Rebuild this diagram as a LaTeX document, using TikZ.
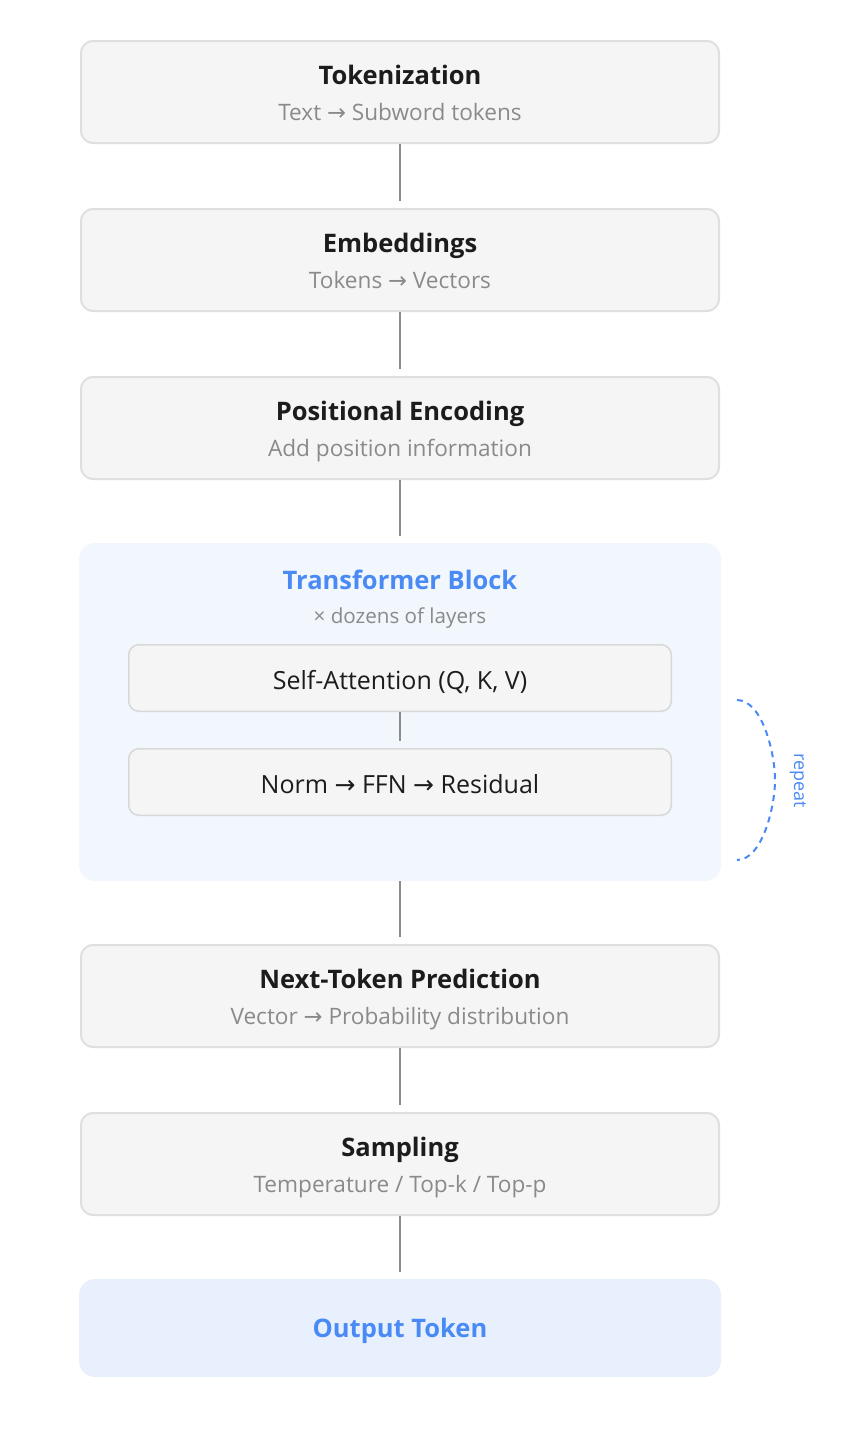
\documentclass[tikz,border=0pt]{standalone}
\usepackage{fontspec}
\setmainfont{Open Sans}
\newfontfamily\arrfont{DejaVu Sans}
\definecolor{boxfill}{HTML}{F5F5F5}
\definecolor{boxline}{HTML}{DFDFDF}
\definecolor{subline}{HTML}{D8D8D8}
\definecolor{titlec}{HTML}{1C1C1C}
\definecolor{subc}{HTML}{8A8A8A}
\definecolor{bluec}{HTML}{4A8AF4}
\definecolor{tbfill}{HTML}{F2F6FD}
\definecolor{outfill}{HTML}{E8F0FD}
\definecolor{connc}{HTML}{8C8C8C}
\newcommand{\ar}{{\arrfont\char"2192}}
\begin{document}
\begin{tikzpicture}[x=1pt,y=-1pt]
\tikzset{
  stagebox/.style={draw=boxline, line width=2pt, fill=boxfill, rounded corners=12pt,
    minimum width=638pt, minimum height=102pt, inner sep=0pt},
  subbox/.style={draw=subline, line width=1.5pt, fill=boxfill, rounded corners=10pt,
    minimum width=542.5pt, minimum height=66.5pt, inner sep=0pt},
  ttl/.style={font=\fontsize{25.5}{29}\selectfont\bfseries, text=titlec, inner sep=0pt, anchor=base},
  subt/.style={font=\fontsize{22.6}{26}\selectfont, text=subc, inner sep=0pt, anchor=base},
  inner/.style={font=\fontsize{25}{29}\selectfont, text=titlec, inner sep=0pt, anchor=base},
  conn/.style={draw=connc, line width=2.5pt, shorten >=7pt},
  thinconn/.style={draw=connc, line width=1.5pt, shorten >=7pt},
}
\useasboundingbox[fill=white] (0,0) rectangle (861,1440);

% stage boxes
\node[stagebox] (tok) at (400,92) {};
\node[ttl] (tokT) at ([yshift=8pt]tok.center) {Tokenization};
\node[subt] (tokS) at ([yshift=-28pt]tok.center) {Text \ar\ Subword tokens};

\node[stagebox] (emb) at (400,260) {};
\node[ttl] (embT) at ([yshift=8pt]emb.center) {Embeddings};
\node[subt] (embS) at ([yshift=-28pt]emb.center) {Tokens \ar\ Vectors};

\node[stagebox] (pos) at (400,428) {};
\node[ttl] (posT) at ([yshift=8pt]pos.center) {Positional Encoding};
\node[subt] (posS) at ([yshift=-28pt]pos.center) {Add position information};

% transformer block
\node[fill=tbfill, rounded corners=16pt, minimum width=642pt, minimum height=338pt, inner sep=0pt] (tb) at (400,712) {};
\node[ttl, text=bluec] (tbT) at (400,589) {Transformer Block};
\node[subt, font=\fontsize{20.6}{24}\selectfont] (tbS) at (400,623) {× dozens of layers};
\node[subbox] (att) at (400,678) {};
\node[inner] (attT) at ([yshift=-11pt]att.center) {Self-Attention (Q, K, V)};
\node[subbox] (ffn) at (400,782) {};
\node[inner] (ffnT) at ([yshift=-11pt]ffn.center) {Norm \ar\ FFN \ar\ Residual};

\node[stagebox] (ntp) at (400,996) {};
\node[ttl] (ntpT) at ([yshift=8pt]ntp.center) {Next-Token Prediction};
\node[subt] (ntpS) at ([yshift=-28pt]ntp.center) {Vector \ar\ Probability distribution};

\node[stagebox] (smp) at (400,1164) {};
\node[ttl] (smpT) at ([yshift=8pt]smp.center) {Sampling};
\node[subt] (smpS) at ([yshift=-28pt]smp.center) {Temperature / Top-k / Top-p};

\node[fill=outfill, rounded corners=16pt, minimum width=642pt, minimum height=98pt, inner sep=0pt] (out) at (400,1328) {};
\node[ttl, text=bluec] (outT) at ([yshift=-9pt]out.center) {Output Token};

% connectors
\draw[conn] (tok.south) -- (emb.north);
\draw[conn] (emb.south) -- (pos.north);
\draw[conn] (pos.south) -- (tb.north);
\draw[thinconn] (att.south) -- (ffn.north);
\draw[conn] (tb.south) -- (ntp.north);
\draw[conn] (ntp.south) -- (smp.north);
\draw[conn] (smp.south) -- (out.north);

% repeat bracket
\coordinate (rA) at (737,700);
\coordinate (rM) at (775,780);
\coordinate (rB) at (737,860);
\draw[bluec, line width=2pt, dash pattern=on 6pt off 5pt]
  (rA) .. controls (762.3,700) and (775,753.3) .. (rM)
       .. controls (775,806.7) and (762.3,860) .. (rB);
\node[font=\fontsize{18}{21}\selectfont, text=bluec, rotate=-90, inner sep=0pt] (rep) at (798,781) {repeat};
\end{tikzpicture}
\end{document}
